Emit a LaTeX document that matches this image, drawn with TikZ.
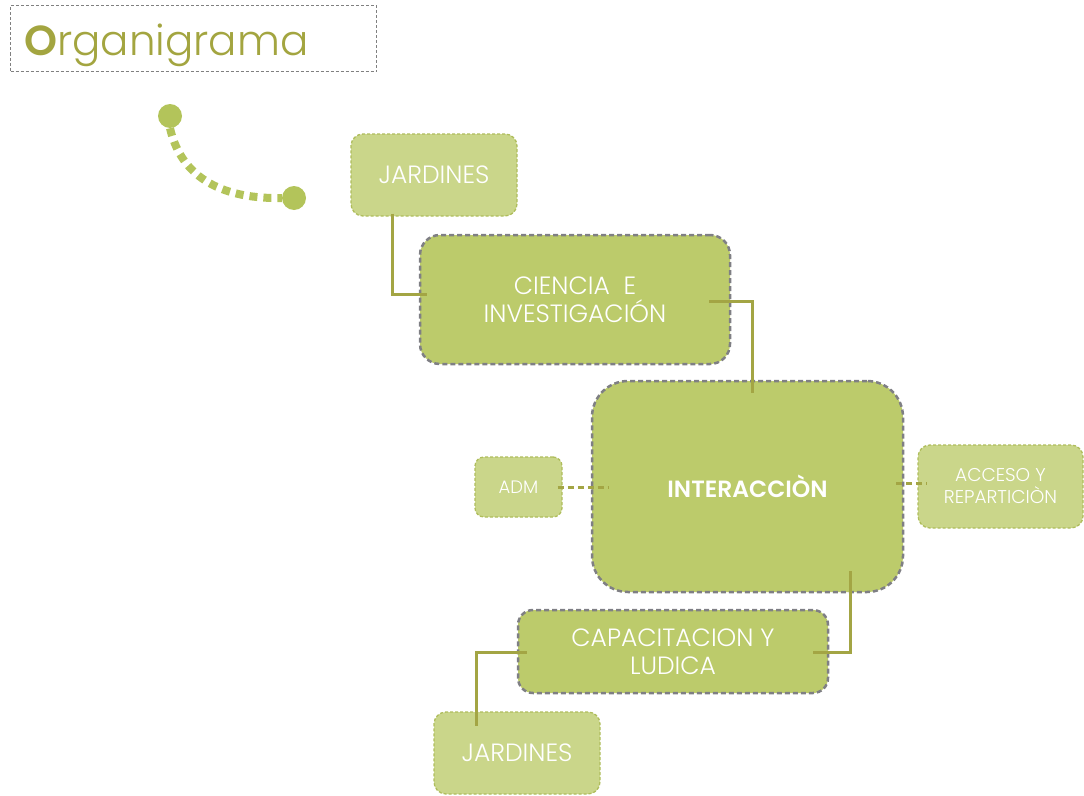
\documentclass[tikz,border=0pt]{standalone}
\usepackage{fontspec}
\setmainfont{Poppins}[UprightFont=* Light, BoldFont=* SemiBold]
\usetikzlibrary{calc}
\definecolor{lightg}{HTML}{CAD68A}
\definecolor{darkg}{HTML}{BCCB6B}
\definecolor{lborder}{HTML}{AFBD5C}
\definecolor{gborder}{HTML}{7F7F84}
\definecolor{conn}{HTML}{A3A544}
\definecolor{titlec}{HTML}{A3A540}
\definecolor{dotc}{HTML}{B3C45A}
\begin{document}
\begin{tikzpicture}[x=1pt,y=-1pt,
 lightbox/.style={draw=lborder, fill=lightg, dash pattern=on 3pt off 2pt, line width=1.3pt, rounded corners=12pt, text=white, align=center, inner sep=0pt},
 darkbox/.style={draw=gborder, fill=darkg, dash pattern=on 5pt off 3pt, line width=2.5pt, rounded corners=20pt, text=white, align=center, inner sep=0pt},
 bigfont/.style={font=\fontsize{25}{28}\selectfont},
 link/.style={draw=conn, line width=3pt},
 dlink/.style={draw=conn, line width=3pt, dash pattern=on 6pt off 4pt},
 titlebox/.style={draw=gray, dash pattern=on 3pt off 2pt, line width=1pt, inner sep=0pt},
 dot/.style={circle, fill=dotc, inner sep=0pt, minimum size=24pt}]
\useasboundingbox (0,0) rectangle (1084,795);

% title
\node[titlebox, minimum width=366pt, minimum height=66pt, anchor=north west] (tb) at (10,5) {};
\node[anchor=base west, text=titlec, inner sep=0pt, font=\fontsize{42}{42}\selectfont] (title) at (24,55) {\textbf{O}rganigrama};

% dotted arc
\node[dot] (d1) at (170,116) {};
\node[dot] (d2) at (294,198) {};
\draw[dotc, line width=8pt, dash pattern=on 8pt off 6pt] (d1.south) .. controls (182,180) and (225,199) .. (d2.west);

% boxes
\node[lightbox, bigfont, minimum width=166pt, minimum height=82pt] (jard1) at (434,175) {JARDINES};
\node[darkbox, bigfont, minimum width=310pt, minimum height=129pt] (cie) at (575,299.5) {CIENCIA\ \ E\\INVESTIGACIÓN};
\node[darkbox, rounded corners=36pt, minimum width=311pt, minimum height=211pt, font=\fontsize{23.5}{28}\selectfont\bfseries] (inter) at (747.5,486.5) {INTERACCIÒN};
\node[lightbox, font=\fontsize{18}{20}\selectfont, minimum width=87pt, minimum height=60pt, rounded corners=9pt] (adm) at (518.5,487) {ADM};
\node[lightbox, font=\fontsize{18.5}{22}\selectfont, minimum width=165pt, minimum height=83pt] (acc) at (1000.5,486.5) {ACCESO Y\\REPARTICIÒN};
\node[darkbox, bigfont, rounded corners=15pt, minimum width=310pt, minimum height=83pt] (cap) at (673,651.5) {CAPACITACION Y\\LUDICA};
\node[lightbox, bigfont, minimum width=166pt, minimum height=82pt] (jard2) at (517,753) {JARDINES};

% connectors
\draw[link] ($(jard1.south west)+(42,-3)$) |- ($(cie.west)+(8,-5.5)$);
\draw[link] ($(cie.east)+(-22,1.5)$) -| ($(inter.north)+(4.5,13)$);
\draw[link] ($(inter.south)+(102.5,-22)$) |- ($(cap.east)+(-16,0.5)$);
\draw[link] ($(cap.west)+(10,0.5)$) -| ($(jard2.north)+(-41,15)$);
\draw[dlink] ($(adm.east)+(-5,0)$) -- ($(inter.west)+(18,0.5)$);
\draw[dlink] ($(inter.east)+(-8,-3.5)$) -- ($(acc.west)+(10,-3.5)$);
\end{tikzpicture}
\end{document}
